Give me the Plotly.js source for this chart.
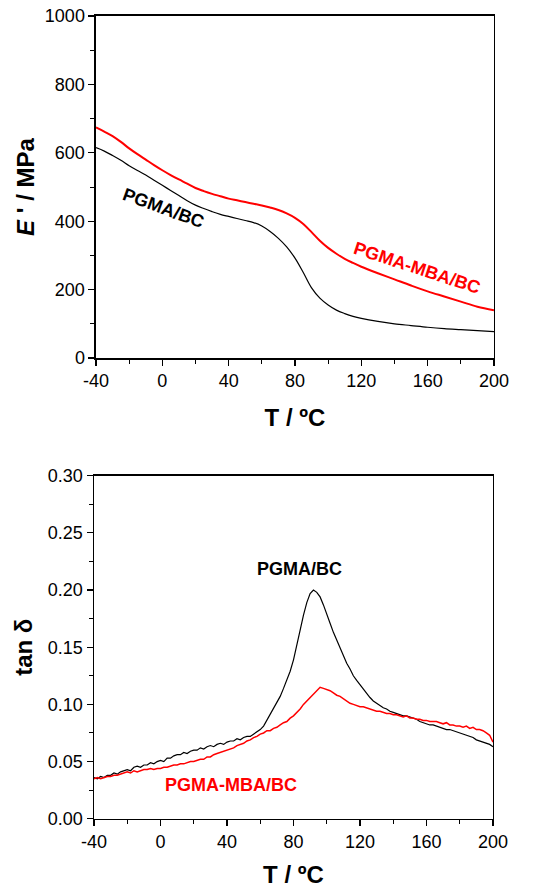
<!DOCTYPE html>
<html>
<head>
<meta charset="utf-8">
<script src="https://cdn.plot.ly/plotly-3.0.1.min.js"></script>
<style>html,body{margin:0;padding:0;background:#fff;}#chart{width:552px;height:888px;}</style>
</head>
<body>
<div id="chart"></div>
<script>
// Storage modulus E' (MPa) vs T (°C)
var tE = [-40,-35,-30,-25,-20,-15,-10,-5,0,5,10,15,20,25,30,35,40,45,50,55,60,65,70,75,80,85,90,95,100,105,110,115,120,130,140,150,160,170,180,190,200];
var eBlack = [615,605,592,578,562,548,535,520,505,490,475,460,447,437,428,420,414,408,402,396,386,370,350,325,292,250,205,175,155,140,130,122,116,107,100,95,90,86,83,80,77];
var eRed = [674,662,649,632,613,596,580,564,549,535,522,510,497,488,480,473,466,461,456,451,446,440,433,423,410,392,368,343,322,305,290,278,267,248,230,212,195,180,165,150,140];

// tan delta vs T (°C)
var tD = [-40,-38,-36,-34,-32,-30,-28,-26,-24,-22,-20,-18,-16,-14,-12,-10,-8,-6,-4,-2,0,2,4,6,8,10,12,14,16,18,20,22,24,26,28,30,32,34,36,38,40,42,44,46,48,50,52,54,56,58,60,62,64,66,68,70,72,74,76,78,80,82,84,86,88,90,92,94,96,98,100,102,104,106,108,110,112,114,116,118,120,122,124,126,128,130,132,134,136,138,140,142,144,146,148,150,152,154,156,158,160,162,164,166,168,170,172,174,176,178,180,182,184,186,188,190,192,194,196,198,200];
var dBlack = [0.036,0.035,0.037,0.036,0.038,0.038,0.040,0.039,0.041,0.042,0.043,0.042,0.045,0.046,0.045,0.047,0.047,0.049,0.048,0.050,0.051,0.050,0.053,0.053,0.055,0.056,0.056,0.058,0.057,0.059,0.060,0.060,0.062,0.061,0.063,0.064,0.063,0.065,0.066,0.065,0.067,0.068,0.068,0.070,0.069,0.071,0.072,0.072,0.074,0.076,0.078,0.081,0.086,0.091,0.096,0.101,0.107,0.114,0.121,0.129,0.139,0.151,0.165,0.178,0.189,0.197,0.200,0.198,0.194,0.187,0.178,0.171,0.163,0.156,0.149,0.142,0.136,0.131,0.125,0.121,0.117,0.113,0.109,0.106,0.103,0.101,0.099,0.097,0.096,0.094,0.093,0.092,0.091,0.090,0.090,0.089,0.088,0.087,0.085,0.084,0.083,0.082,0.082,0.081,0.080,0.079,0.078,0.078,0.077,0.076,0.075,0.074,0.073,0.072,0.071,0.069,0.068,0.067,0.066,0.065,0.063];
var dRed = [0.035,0.036,0.035,0.036,0.037,0.037,0.038,0.038,0.039,0.040,
            0.041,0.040,0.042,0.041,0.042,0.043,0.043,0.044,0.043,0.044,
            0.044,0.045,0.045,0.046,0.047,0.047,0.048,0.048,0.049,0.050,
            0.050,0.051,0.052,0.052,0.054,0.054,0.056,0.057,0.058,0.059,
            0.060,0.061,0.062,0.064,0.065,0.066,0.068,0.069,0.071,0.072,
            0.074,0.075,0.077,0.077,0.079,0.080,0.082,0.084,0.085,0.088,
            0.090,0.093,0.096,0.100,0.103,0.106,0.109,0.112,0.115,0.114,
            0.113,0.112,0.110,0.108,0.107,0.105,0.103,0.101,0.100,0.099,
            0.098,0.098,0.097,0.096,0.095,0.094,0.094,0.093,0.092,0.092,
            0.091,0.091,0.090,0.089,0.090,0.088,0.088,0.087,0.087,0.086,
            0.086,0.085,0.085,0.085,0.084,0.083,0.084,0.082,0.082,0.081,
            0.081,0.080,0.081,0.079,0.080,0.078,0.078,0.077,0.075,0.073,
            0.067];

var labelBlack = 'PGMA/BC';
var labelRed = 'PGMA-MBA/BC';
var xTicks = [-40, 0, 40, 80, 120, 160, 200];
var xTickText = ['-40', '0', '40', '80', '120', '160', '200'];

var FONT = 'Liberation Sans, Arial, sans-serif';

var traces = [
  {x: tE, y: eBlack, xaxis: 'x', yaxis: 'y', mode: 'lines', line: {color: '#000000', width: 1.2, shape: 'spline'}, name: labelBlack},
  {x: tE, y: eRed, xaxis: 'x', yaxis: 'y', mode: 'lines', line: {color: '#ff0000', width: 2, shape: 'spline'}, name: labelRed},
  {x: tD, y: dBlack, xaxis: 'x2', yaxis: 'y2', mode: 'lines', line: {color: '#000000', width: 1.2}, name: labelBlack},
  {x: tD, y: dRed, xaxis: 'x2', yaxis: 'y2', mode: 'lines', line: {color: '#ff0000', width: 1.5}, name: labelRed}
];

function xax(domain, anchor) {
  return {
    domain: domain, anchor: anchor, range: [-40, 200], tickvals: xTicks, ticktext: xTickText,
    ticks: 'outside', ticklen: 6, tickwidth: 1.2, tickcolor: '#000',
    minor: {dtick: 20, tick0: -40, ticks: 'outside', ticklen: 4, tickwidth: 1, tickcolor: '#000', showgrid: false},
    showline: true, linecolor: '#000', linewidth: 1.5, mirror: true, showgrid: false, zeroline: false,
    tickfont: {family: FONT, size: 18, color: '#000'},
    title: {text: '<b>T / ºC</b>', font: {family: FONT, size: 24, color: '#000'}, standoff: 19}
  };
}

var layout = {
  width: 552, height: 888,
  margin: {l: 0, r: 0, t: 0, b: 0},
  paper_bgcolor: '#fff', plot_bgcolor: '#fff',
  showlegend: false,
  xaxis: xax([0.1739, 0.8949], 'y'),
  yaxis: {
    domain: [0.5968, 0.9820], anchor: 'x', range: [0, 1000], tickvals: [0, 200, 400, 600, 800, 1000],
    ticks: 'outside', ticklen: 6, tickwidth: 1.2, tickcolor: '#000',
    minor: {dtick: 100, tick0: 0, ticks: 'outside', ticklen: 4, tickwidth: 1, tickcolor: '#000', showgrid: false},
    showline: true, linecolor: '#000', linewidth: 1.5, mirror: true, showgrid: false, zeroline: false,
    tickfont: {family: FONT, size: 18, color: '#000'},
    title: {text: "<b><i>E</i> ' / MPa</b>", font: {family: FONT, size: 24, color: '#000'}, standoff: 3}
  },
  xaxis2: xax([0.1703, 0.8931], 'y2'),
  yaxis2: {
    domain: [0.0780, 0.4643], anchor: 'x2', range: [0, 0.30], tickvals: [0, 0.05, 0.10, 0.15, 0.20, 0.25, 0.30],
    ticktext: ['0.00', '0.05', '0.10', '0.15', '0.20', '0.25', '0.30'],
    ticks: 'outside', ticklen: 6, tickwidth: 1.2, tickcolor: '#000',
    minor: {dtick: 0.025, tick0: 0, ticks: 'outside', ticklen: 4, tickwidth: 1, tickcolor: '#000', showgrid: false},
    showline: true, linecolor: '#000', linewidth: 1.5, mirror: true, showgrid: false, zeroline: false,
    tickfont: {family: FONT, size: 18, color: '#000'},
    title: {text: '<b>tan δ</b>', font: {family: FONT, size: 24, color: '#000'}, standoff: 8}
  },
  annotations: [
    {xref: 'x', yref: 'y', x: 0.5, y: 439, text: '<b>' + labelBlack + '</b>', showarrow: false, textangle: 20, font: {family: FONT, size: 18, color: '#000'}},
    {xref: 'x', yref: 'y', x: 153.6, y: 263, text: '<b>' + labelRed + '</b>', showarrow: false, textangle: 18, font: {family: FONT, size: 18, color: '#ff0000'}},
    {xref: 'x2', yref: 'y2', x: 83.9, y: 0.218, text: '<b>' + labelBlack + '</b>', showarrow: false, font: {family: FONT, size: 18, color: '#000'}},
    {xref: 'x2', yref: 'y2', x: 42.4, y: 0.0295, text: '<b>' + labelRed + '</b>', showarrow: false, font: {family: FONT, size: 18, color: '#ff0000'}}
  ]
};

Plotly.newPlot('chart', traces, layout, {displayModeBar: false, staticPlot: true});
</script>
</body>
</html>
